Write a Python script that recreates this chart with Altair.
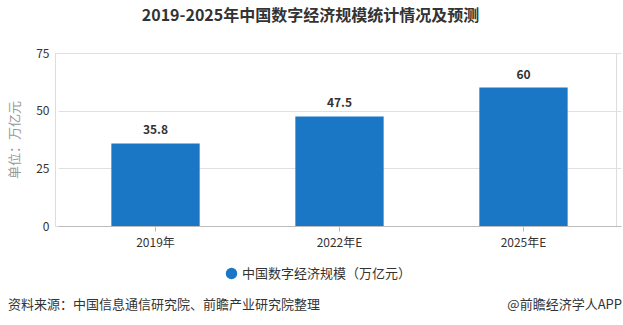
import altair as alt
import pandas as pd

categories = ["2019年", "2022年E", "2025年E"]
values = [35.8, 47.5, 60]
series_name = "中国数字经济规模（万亿元）"
y_ticks = [0, 25, 50, 75]

df = pd.DataFrame({"year": categories, "value": values, "series": [series_name] * len(categories)})

FONT = "Noto Sans CJK SC"
BLUE = "#1a77c5"

base = alt.Chart(df).encode(
    x=alt.X("year:N", sort=categories,
            scale=alt.Scale(paddingInner=0.52, paddingOuter=0.29, range=[3, 566]),
            axis=alt.Axis(title=None, labelAngle=0, labelFont=FONT, labelFontSize=12,
                          labelColor="#333333", labelPadding=6, domainColor="#bbbbbb",
                          tickColor="#bbbbbb", tickSize=5, grid=False)),
    y=alt.Y("value:Q", scale=alt.Scale(domain=[0, 75], nice=False, zero=True),
            axis=alt.Axis(values=y_ticks, title="单位：万亿元", titleFont=FONT, titleFontSize=13,
                          titleFontWeight="normal", titleColor="#999999", titlePadding=14,
                          labelFont=FONT, labelFontSize=12, labelColor="#333333", labelPadding=6,
                          domain=False, ticks=False, gridColor="#e0e0e0")),
)

bars = base.mark_bar(color=BLUE).encode(
    color=alt.Color("series:N", scale=alt.Scale(range=[BLUE]),
                    legend=alt.Legend(title=None, orient="none", legendX=170, legendY=214,
                                      symbolType="circle", symbolSize=130, labelFont=FONT,
                                      labelFontSize=13, labelColor="#333333", labelLimit=400)),
)

labels = base.mark_text(baseline="bottom", dy=-6, font=FONT, fontSize=12, fontWeight="bold",
                        color="#333333").encode(
    text=alt.Text("value:Q"),
)

footer_df = pd.DataFrame({"t": ["资料来源：中国信息通信研究院、前瞻产业研究院整理"]})
footer_left = alt.Chart(footer_df).mark_text(align="left", baseline="middle", font=FONT, fontSize=13,
                                             color="#333333").encode(
    x=alt.value(-47), y=alt.value(252), text="t:N")
footer_df2 = pd.DataFrame({"t": ["@前瞻经济学人APP"]})
footer_right = alt.Chart(footer_df2).mark_text(align="right", baseline="middle", font=FONT, fontSize=13,
                                               color="#333333").encode(
    x=alt.value(567), y=alt.value(252), text="t:N")

chart = alt.layer(bars, labels, footer_left, footer_right).properties(
    width=561, height=173,
    autosize=alt.AutoSizeParams(type="none"),
    padding={"left": 55, "top": 53, "right": 7, "bottom": 99},
    title=alt.TitleParams("2019-2025年中国数字经济规模统计情况及预测", font=FONT, fontSize=16,
                          fontWeight="bold", color="#333333", anchor="middle", dx=-25, offset=23),
).configure_view(stroke=None).configure(background="white")

chart.save("out.html", embed_options={"renderer": "svg", "actions": False})
